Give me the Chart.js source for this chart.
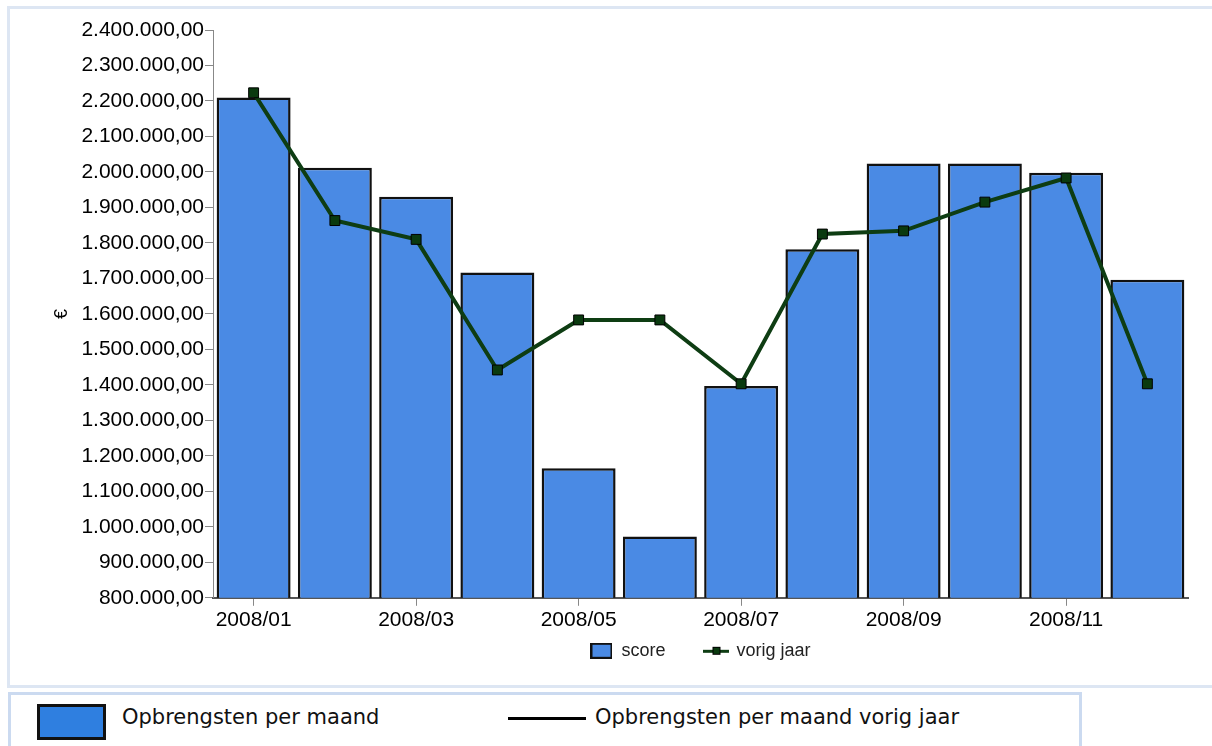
<!DOCTYPE html>
<html>
<head>
<meta charset="utf-8">
<title>Opbrengsten per maand</title>
<script src="https://cdn.jsdelivr.net/npm/chart.js@4.4.1/dist/chart.umd.min.js"></script>
<style>
  html, body { margin: 0; padding: 0; background: #fff; overflow: hidden; }
  body { width: 1212px; height: 746px; position: relative; }
  .panel-top {
    position: absolute; left: 7px; top: 6px; width: 1230px; height: 676px;
    border: 3px solid #dde6f3; box-sizing: content-box;
  }
  .panel-bottom {
    position: absolute; left: 8px; top: 692px; width: 1068px; height: 80px;
    border: 3px solid #cbdaf0;
  }
  #chart { position: absolute; left: 10px; top: 10px; }
  .key-box {
    position: absolute; left: 37px; top: 704px; width: 63px; height: 30px;
    background: #2f7fe0; border: 3px solid #111;
  }
  .key-line {
    position: absolute; left: 508px; top: 717px; width: 78px; height: 3px; background: #000;
  }
  .key-text {
    position: absolute; top: 705px; font: 21px "DejaVu Sans", Verdana, sans-serif; color: #111;
  }
</style>
</head>
<body>
<div class="panel-top"></div>
<div class="panel-bottom"></div>
<div class="key-box"></div>
<div class="key-text" style="left:122px">Opbrengsten per maand</div>
<div class="key-line"></div>
<div class="key-text" style="left:595px">Opbrengsten per maand vorig jaar</div>
<canvas id="chart" width="1202" height="693"></canvas>

<script>
// ── data ──────────────────────────────────
const months = ['2008/01','2008/02','2008/03','2008/04','2008/05','2008/06',
                '2008/07','2008/08','2008/09','2008/10','2008/11','2008/12'];
const score = [2210000, 2012000, 1930000, 1717000, 1165000, 973000,
               1397000, 1782000, 2024000, 2024000, 1998000, 1696000];
const vorigJaar = [2223000, 1863000, 1810000, 1442000, 1583000, 1583000,
                   1403000, 1825000, 1834000, 1915000, 1983000, 1403000];
const yMin = 800000;
const yMax = 2400000;
const yStep = 100000;

const AXIS_FONT = "'Liberation Sans', Arial, sans-serif";

// 2.400.000,00 style
function euro(v) {
  return Math.round(v).toString().replace(/\B(?=(\d{3})+(?!\d))/g, '.') + ',00';
}

// small legend icons
function scoreIcon() {
  const c = document.createElement('canvas');
  c.width = 22; c.height = 16;
  const g = c.getContext('2d');
  g.fillStyle = '#4a8ae4';
  g.fillRect(0, 0, 22, 16);
  g.strokeStyle = '#111';
  g.lineWidth = 2;
  g.strokeRect(1, 1, 20, 14);
  return c;
}
function lineIcon() {
  const c = document.createElement('canvas');
  c.width = 26; c.height = 12;
  const g = c.getContext('2d');
  g.fillStyle = '#0e3d13';
  g.fillRect(0, 5, 26, 3);
  g.fillStyle = '#0a3a0f';
  g.fillRect(9, 2, 8, 8);
  g.strokeStyle = '#000';
  g.lineWidth = 1;
  g.strokeRect(9.5, 2.5, 7, 7);
  return c;
}
const icons = [scoreIcon(), lineIcon()];

// legend sits close under the axis labels, but keeps wide item spacing
const legendUp = {
  id: 'legendUp',
  afterLayout(chart) {
    const lg = chart.legend;
    if (!lg) return;
    const h = lg.height;
    lg.top = chart.chartArea.bottom + 4;
    lg.bottom = lg.top + h;
  }
};

const ctx = document.getElementById('chart').getContext('2d');

new Chart(ctx, {
  type: 'bar',
  data: {
    labels: months,
    datasets: [
      {
        type: 'bar',
        label: 'score',
        data: score,
        backgroundColor: '#4a8ae4',
        borderColor: '#111',
        borderWidth: 2.5,
        borderSkipped: 'start',
        barPercentage: 0.91,
        categoryPercentage: 1,
        order: 1
      },
      {
        type: 'line',
        label: 'vorig jaar',
        data: vorigJaar,
        borderColor: '#0e3d13',
        borderWidth: 4,
        tension: 0,
        pointStyle: 'rect',
        pointRadius: 7,
        pointBackgroundColor: '#0a3a0f',
        pointBorderColor: '#000',
        pointBorderWidth: 1,
        order: 0
      }
    ]
  },
  plugins: [legendUp],
  options: {
    responsive: false,
    animation: false,
    layout: { padding: { top: 20, right: 24, left: 0, bottom: 0 } },
    plugins: {
      tooltip: { enabled: false },
      legend: {
        position: 'bottom',
        fullSize: false,
        labels: {
          font: { family: AXIS_FONT, size: 18 },
          color: '#222',
          usePointStyle: true,
          pointStyleWidth: 22,
          boxHeight: 18,
          padding: 40,
          sort: (a, b) => a.datasetIndex - b.datasetIndex,
          generateLabels: chart => {
            const items = Chart.defaults.plugins.legend.labels.generateLabels(chart);
            items.forEach(it => { it.pointStyle = icons[it.datasetIndex]; });
            return items;
          }
        }
      }
    },
    scales: {
      x: {
        grid: {
          offset: false,
          drawOnChartArea: false,
          drawTicks: true,
          tickLength: 8,
          tickColor: c => (c.index % 2 === 0 ? '#888' : 'rgba(0,0,0,0)')
        },
        border: { display: true, color: '#555', width: 2 },
        ticks: {
          autoSkip: false,
          maxRotation: 0,
          padding: 2,
          color: '#000',
          font: { family: AXIS_FONT, size: 21 },
          callback: function (value, index) {
            return index % 2 === 0 ? this.getLabelForValue(value) : '';
          }
        }
      },
      y: {
        min: yMin,
        max: yMax,
        grid: {
          drawOnChartArea: false,
          drawTicks: true,
          tickLength: 8,
          tickColor: '#888'
        },
        border: { display: true, color: '#888', width: 1 },
        ticks: {
          stepSize: yStep,
          autoSkip: false,
          padding: 1,
          color: '#000',
          font: { family: AXIS_FONT, size: 21 },
          callback: v => euro(v)
        },
        title: {
          display: true,
          text: '€',
          color: '#000',
          font: { family: AXIS_FONT, size: 18 },
          padding: { top: 41, bottom: 0 }
        },
        afterFit: s => { s.width = 203; }
      }
    }
  }
});
</script>
</body>
</html>
